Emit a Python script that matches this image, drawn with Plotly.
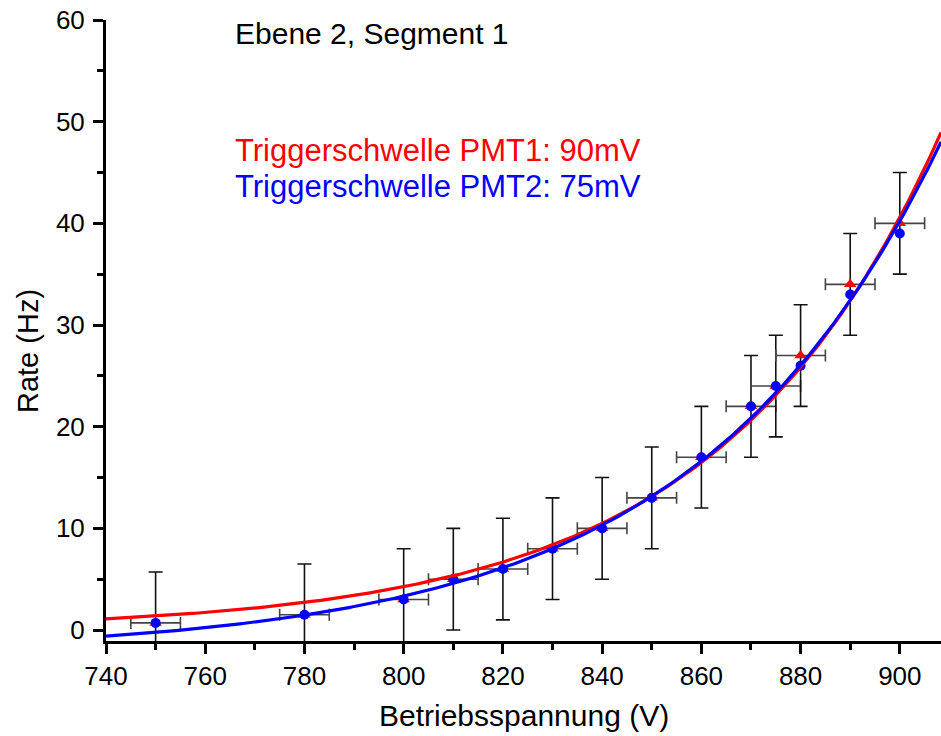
import numpy as np
import plotly.graph_objects as go

# Data
voltage = [750, 780, 800, 810, 820, 830, 840, 850, 860, 870, 875, 880, 890, 900]
rate_pmt1 = [0.7, 1.5, 3, 5, 6, 8, 10, 13, 17, 22, 24, 27, 34, 40]
rate_pmt2 = [0.7, 1.5, 3, 5, 6, 8, 10, 13, 17, 22, 24, 26, 33, 39]
err_rate = [5] * len(voltage)
err_volt = [5] * len(voltage)

# Exponential fit parameters: y = y0 + A*exp(b*(x-740))
fit_pmt1 = dict(y0=0.0, A=1.1, b=0.02255)
fit_pmt2 = dict(y0=-2.25, A=1.65, b=0.0203)

x_min, x_max = 740, 908.3
y_min, y_max = -1.08, 60

xf = np.linspace(x_min, x_max, 300)
def model(p):
    return p["y0"] + p["A"] * np.exp(p["b"] * (xf - 740))

FONT = "Liberation Sans, Arial, sans-serif"

fig = go.Figure()
fig.add_trace(go.Scatter(
    x=voltage, y=rate_pmt1, mode="markers",
    marker=dict(symbol="triangle-up", size=11, color="#ff0000"),
    error_y=dict(type="data", array=err_rate, color="#111111", thickness=1.6, width=7),
    error_x=dict(type="data", array=err_volt, color="#444444", thickness=1.6, width=6),
    showlegend=False))
fig.add_trace(go.Scatter(
    x=voltage, y=rate_pmt2, mode="markers",
    marker=dict(symbol="circle", size=10, color="#0000ff"),
    showlegend=False))
fig.add_trace(go.Scatter(x=xf, y=model(fit_pmt1), mode="lines",
                         line=dict(color="#ff0000", width=3.2), showlegend=False))
fig.add_trace(go.Scatter(x=xf, y=model(fit_pmt2), mode="lines",
                         line=dict(color="#0000ff", width=3.2), showlegend=False))

fig.add_annotation(x=765.6, y=58.7, xref="x", yref="y", text="Ebene 2, Segment 1",
                   showarrow=False, xanchor="left", yanchor="middle",
                   font=dict(family=FONT, size=30, color="black"))
fig.add_annotation(x=765.6, y=47.2, xref="x", yref="y", text="Triggerschwelle PMT1: 90mV",
                   showarrow=False, xanchor="left", yanchor="middle",
                   font=dict(family=FONT, size=31, color="#ff0000"))
fig.add_annotation(x=765.6, y=43.6, xref="x", yref="y", text="Triggerschwelle PMT2: 75mV",
                   showarrow=False, xanchor="left", yanchor="middle",
                   font=dict(family=FONT, size=31, color="#0000ff"))

# Axis titles
fig.add_annotation(x=0.5, y=-0.12, xref="paper", yref="paper", text="Betriebsspannung (V)",
                   showarrow=False, xanchor="center", yanchor="middle",
                   font=dict(family=FONT, size=30, color="black"))
fig.add_annotation(x=-0.0934, y=0.467, xref="paper", yref="paper", text="Rate (Hz)",
                   showarrow=False, xanchor="center", yanchor="middle", textangle=-90,
                   font=dict(family=FONT, size=29, color="black"))

axis_common = dict(showgrid=False, zeroline=False, showline=True, linecolor="black",
                   linewidth=3, ticks="outside", ticklen=10, tickwidth=2.5, tickcolor="black",
                   automargin=False, ticklabeloverflow="allow",
                   tickfont=dict(family=FONT, size=26, color="black"))
fig.update_xaxes(range=[x_min, x_max], tickmode="linear", tick0=740, dtick=20,
                 minor=dict(dtick=10, tick0=740, ticklen=6, tickwidth=2.5, tickcolor="black", ticks="outside"),
                 **axis_common)
fig.update_yaxes(range=[y_min, y_max], tickmode="linear", tick0=0, dtick=10,
                 ticklabelstandoff=3,
                 minor=dict(dtick=5, tick0=0, ticklen=6, tickwidth=2.5, tickcolor="black", ticks="outside"),
                 **axis_common)

fig.update_layout(width=941, height=736, plot_bgcolor="white", paper_bgcolor="white",
                  margin=dict(l=106, r=0, t=20, b=95))

fig.write_html("out.html", config={"displayModeBar": False},
               post_script="document.body.style.margin='0';document.body.style.overflow='hidden';")
